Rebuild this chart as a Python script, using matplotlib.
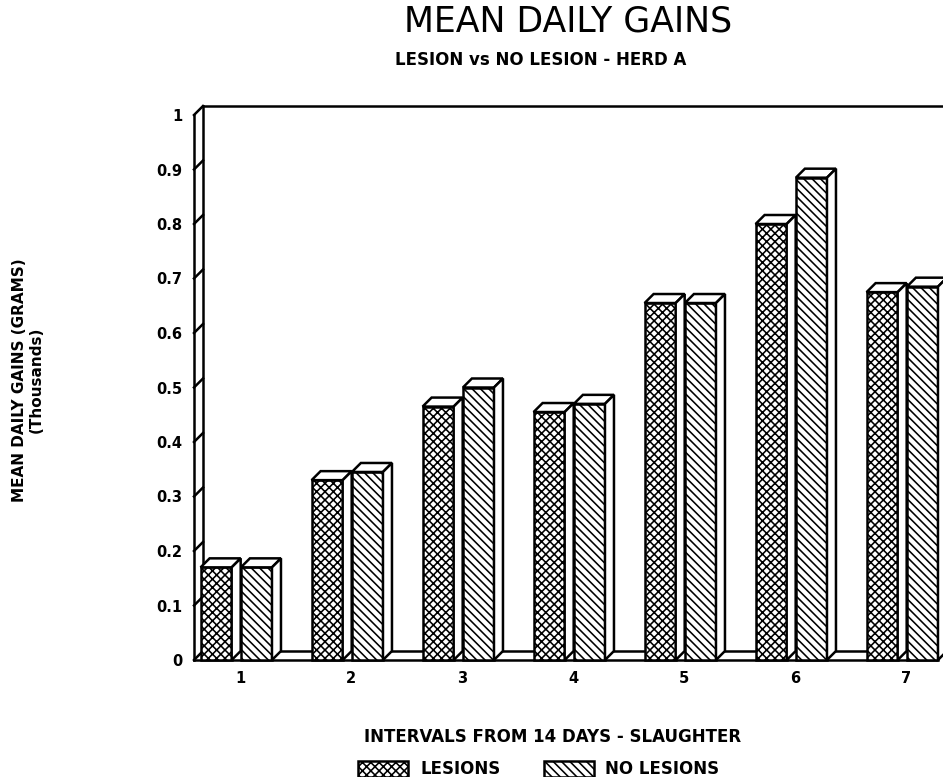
import numpy as np
import matplotlib.pyplot as plt
from matplotlib.patches import Polygon, Patch

# chart values
intervals = [1, 2, 3, 4, 5, 6, 7]
lesions = [0.17, 0.33, 0.465, 0.455, 0.655, 0.80, 0.675]
no_lesions = [0.17, 0.345, 0.50, 0.47, 0.655, 0.885, 0.685]
yticks = [0, 0.1, 0.2, 0.3, 0.4, 0.5, 0.6, 0.7, 0.8, 0.9, 1]
ytick_labels = ["0", "0.1", "0.2", "0.3", "0.4", "0.5", "0.6", "0.7", "0.8", "0.9", "1"]

W, H = 943, 777
plt.rcParams['hatch.linewidth'] = 1.15
plt.rcParams['font.family'] = 'DejaVu Sans'

fig = plt.figure(figsize=(W / 100, H / 100), dpi=100)

# axes placed in pixels: y=0 at 660px, y=1 at 115px, left wall at 194px
px = 111.0                      # pixels per category
x_left = 1 - (240 - 194) / px
x_right = 1 + (W - 240) / px
ax = fig.add_axes([194 / W, (H - 660) / H, (W - 194) / W, 545 / H])
ax.set_xlim(x_left, x_right)
ax.set_ylim(0, 1)
for s in ax.spines.values():
    s.set_visible(False)

dx = 9 / px        # depth offset in data units
dy = 9 / 545.0
lw = 1.8
floor_end = 1 + (937 - 240) / px

# left wall, floor and top frame
ax.plot([x_left, x_left], [0, 1], color='black', lw=lw, clip_on=False)
ax.plot([x_left + dx, x_left + dx], [dy, 1 + dy], color='black', lw=lw, clip_on=False)
ax.plot([x_left, x_left + dx], [1, 1 + dy], color='black', lw=lw, clip_on=False)
ax.plot([x_left + dx, x_right + 1], [1 + dy, 1 + dy], color='black', lw=lw, clip_on=False)
for v in yticks[:-1]:
    ax.plot([x_left, x_left + dx], [v, v + dy], color='black', lw=lw, clip_on=False)
ax.plot([x_left, floor_end], [0, 0], color='black', lw=lw, clip_on=False)
ax.plot([x_left + dx, floor_end + dx], [dy, dy], color='black', lw=lw, clip_on=False)
ax.plot([floor_end, floor_end + dx], [0, dy], color='black', lw=lw, clip_on=False)

bw = 0.28
cross = 'xxxx'
diag = '\\\\\\\\'


def bar3d(x0, h, hatch):
    ax.bar(x0, h, bw, align='edge', color='white', edgecolor='black',
           hatch=hatch, lw=lw, zorder=3, clip_on=False)
    top = [(x0, h), (x0 + bw, h), (x0 + bw + dx, h + dy), (x0 + dx, h + dy)]
    side = [(x0 + bw, 0), (x0 + bw + dx, dy), (x0 + bw + dx, h + dy), (x0 + bw, h)]
    for pts in (top, side):
        ax.add_patch(Polygon(pts, closed=True, facecolor='white', edgecolor='black',
                             lw=lw, zorder=3, clip_on=False, joinstyle='miter'))


for c, a, b in zip(intervals, lesions, no_lesions):
    bar3d(c - 0.355, a, cross)
    bar3d(c + 0.008, b, diag)

ax.set_yticks(yticks)
ax.set_yticklabels(ytick_labels, fontsize=10.5, fontweight='bold')
ax.set_xticks(intervals)
ax.set_xticklabels([str(i) for i in intervals], fontsize=10.5, fontweight='bold')
ax.tick_params(axis='y', length=0, pad=8.5)
ax.tick_params(axis='x', length=0, pad=8)


def fx(x):
    return x / W


def fy(y):
    return 1 - y / H


fig.text(fx(568), fy(21), "MEAN DAILY GAINS", fontsize=25, ha='center', va='center')
fig.text(fx(541), fy(60), "LESION vs NO LESION - HERD A", fontsize=12, fontweight='bold',
         ha='center', va='center')
fig.text(fx(28), fy(380), "MEAN DAILY GAINS (GRAMS)\n(Thousands)", fontsize=11,
         fontweight='bold', rotation=90, ha='center', va='center', multialignment='center',
         linespacing=1.2)
fig.text(fx(553), fy(737), "INTERVALS FROM 14 DAYS - SLAUGHTER", fontsize=12,
         fontweight='bold', ha='center', va='center')

handles = [Patch(facecolor='white', edgecolor='black', hatch=cross, lw=lw, label='LESIONS'),
           Patch(facecolor='white', edgecolor='black', hatch=diag, lw=lw, label='NO LESIONS')]
fig.legend(handles=handles, loc='upper left', bbox_to_anchor=(fx(350), fy(752)), ncol=2,
           frameon=False, prop={'size': 12, 'weight': 'bold'}, borderpad=0,
           handlelength=3.0, handleheight=1.1, handletextpad=0.7, columnspacing=2.6)

fig.savefig('out.png', dpi=100)
